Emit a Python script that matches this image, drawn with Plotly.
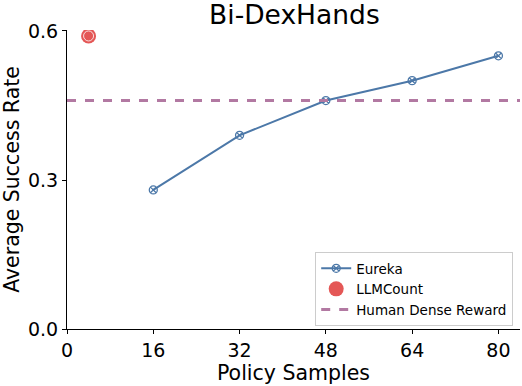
import plotly.graph_objects as go

# data
samples = [16, 32, 48, 64, 80]
eureka = [0.28, 0.39, 0.46, 0.50, 0.55]
llmcount_x = [4]
llmcount_y = [0.59]
human_dense = 0.46

x_ticks = [0, 16, 32, 48, 64, 80]
y_ticks = [0.0, 0.3, 0.6]

blue = '#4C78A8'
red = '#E45756'
purple = '#B279A2'
font = 'DejaVu Sans'

fig = go.Figure()

fig.add_trace(go.Scatter(
    x=samples, y=eureka, mode='lines+markers', name='Eureka',
    line=dict(color=blue, width=2),
    marker=dict(symbol='circle-x-open', size=8, color=blue, line=dict(width=1.3)),
))

fig.add_trace(go.Scatter(
    x=llmcount_x, y=llmcount_y, mode='markers', name='LLMCount',
    legendgroup='llm',
    marker=dict(symbol='circle', size=15, color=red, line=dict(width=0)),
))
fig.add_trace(go.Scatter(
    x=llmcount_x, y=llmcount_y, mode='markers', showlegend=False,
    legendgroup='llm', hoverinfo='skip',
    marker=dict(symbol='circle-open', size=10, color='white', line=dict(width=0.8)),
))

fig.add_trace(go.Scatter(
    x=[0, 84], y=[human_dense, human_dense], mode='lines', name='Human Dense Reward',
    line=dict(color=purple, width=3, dash='dash'),
))

fig.update_layout(
    width=522, height=386,
    margin=dict(l=67, r=2, t=30, b=57),
    paper_bgcolor='white', plot_bgcolor='white',
    font=dict(family=font, color='black'),
    title=dict(text='Bi-DexHands', x=0.564, xanchor='center', y=0.962, yanchor='middle',
               font=dict(size=26.5, family=font)),
    legend=dict(x=0.985, y=0.01, xanchor='right', yanchor='bottom',
                bordercolor='#cccccc', borderwidth=1, bgcolor='white',
                font=dict(size=13.5, family=font), tracegroupgap=0,
                itemwidth=30),
    showlegend=True,
)

fig.update_xaxes(
    range=[0, 84], tickvals=x_ticks, ticktext=[str(t) for t in x_ticks],
    showline=True, linecolor='black', linewidth=1.2,
    ticks='outside', ticklen=4, tickcolor='black',
    showgrid=False, zeroline=False, tickfont=dict(size=19), automargin=False,
    title=dict(text='Policy Samples', font=dict(size=20.5), standoff=2),
)
fig.update_yaxes(
    range=[0, 0.602], tickvals=y_ticks, ticktext=['0.0', '0.3', '0.6'],
    showline=True, linecolor='black', linewidth=1.2,
    ticks='outside', ticklen=4, tickcolor='black',
    showgrid=False, zeroline=False, tickfont=dict(size=19), automargin=False,
    title=dict(text='Average Success Rate', font=dict(size=20.5), standoff=4),
)

# drop the default 8px page margin so the figure sits at the window corner
fig.write_html('out.html', config={'displayModeBar': False},
               post_script="document.body.style.margin='0';")
